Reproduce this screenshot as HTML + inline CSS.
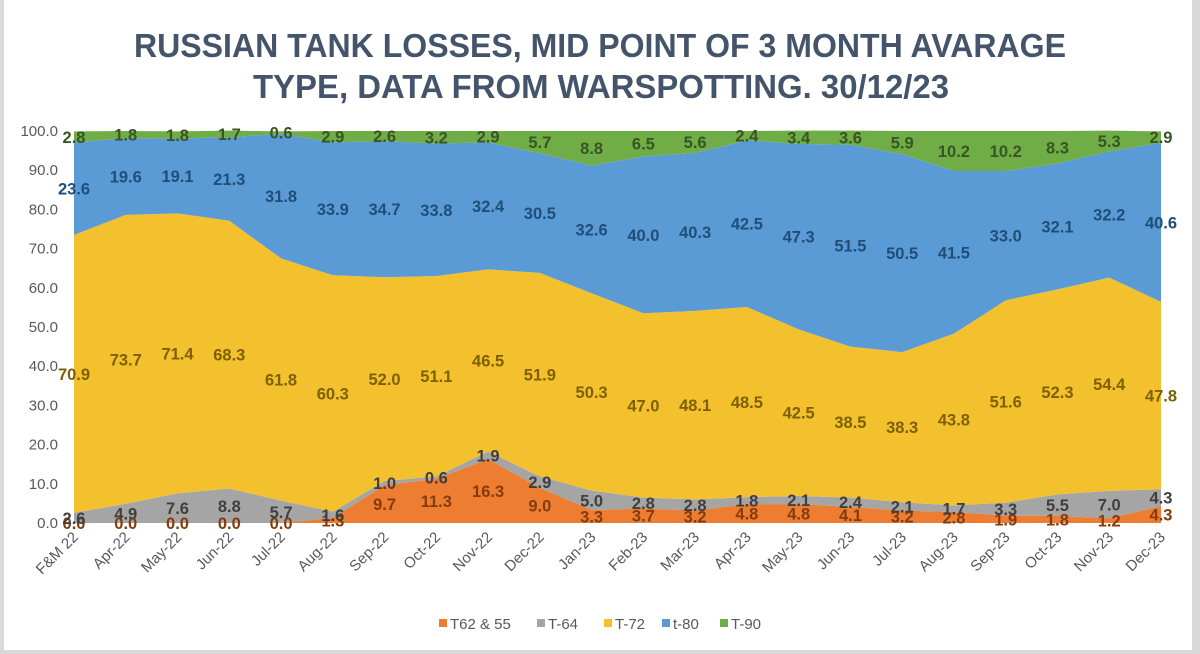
<!DOCTYPE html>
<html><head><meta charset="utf-8">
<style>
html,body{margin:0;padding:0;background:#fff;}
body{width:1200px;height:654px;overflow:hidden;position:relative;font-family:"Liberation Sans",sans-serif;}
svg{position:absolute;left:0;top:0;}
</style></head>
<body>
<svg id="chart" width="1200" height="654">
  <rect x="0" y="0" width="1200" height="654" fill="#ffffff"/>
  <rect x="0" y="0" width="4" height="654" fill="#d9d9d9"/>
  <rect x="1192" y="0" width="8" height="654" fill="#d9d9d9"/>
  <rect x="0" y="650" width="1200" height="4" fill="#d9d9d9"/>
  <text x="600" y="57" text-anchor="middle" font-size="33" font-weight="bold" fill="#44546a" textLength="932" lengthAdjust="spacingAndGlyphs">RUSSIAN TANK LOSSES, MID POINT OF 3 MONTH AVARAGE</text>
  <text x="601" y="98" text-anchor="middle" font-size="33" font-weight="bold" fill="#44546a" textLength="696" lengthAdjust="spacingAndGlyphs">TYPE, DATA FROM WARSPOTTING. 30/12/23</text>
  <g id="areas"></g>
  <g id="yaxis"></g>
  <g id="xaxis"></g>
  <g id="labels"></g>
  <g id="legend"></g>
</svg>
<script>
const categories=["F&M 22","Apr-22","May-22","Jun-22","Jul-22","Aug-22","Sep-22","Oct-22","Nov-22","Dec-22","Jan-23","Feb-23","Mar-23","Apr-23","May-23","Jun-23","Jul-23","Aug-23","Sep-23","Oct-23","Nov-23","Dec-23"];
const t62=[0,0,0,0,0,1.3,9.7,11.3,16.3,9.0,3.3,3.7,3.2,4.8,4.8,4.1,3.2,2.8,1.9,1.8,1.2,4.3];
const t64=[2.6,4.9,7.6,8.8,5.7,1.6,1.0,0.6,1.9,2.9,5.0,2.8,2.8,1.8,2.1,2.4,2.1,1.7,3.3,5.5,7.0,4.3];
const t72=[70.9,73.7,71.4,68.3,61.8,60.3,52.0,51.1,46.5,51.9,50.3,47.0,48.1,48.5,42.5,38.5,38.3,43.8,51.6,52.3,54.4,47.8];
const t80=[23.6,19.6,19.1,21.3,31.8,33.9,34.7,33.8,32.4,30.5,32.6,40.0,40.3,42.5,47.3,51.5,50.5,41.5,33.0,32.1,32.2,40.6];
const t90=[2.8,1.8,1.8,1.7,0.6,2.9,2.6,3.2,2.9,5.7,8.8,6.5,5.6,2.4,3.4,3.6,5.9,10.2,10.2,8.3,5.3,2.9];
const yTicks=[0,10,20,30,40,50,60,70,80,90,100];
const seriesNames=["T62 & 55","T-64","T-72","t-80","T-90"];

const NS="http://www.w3.org/2000/svg";
const X0=74,X1=1161,Y0=523,Y100=131;
const xs=i=>X0+(X1-X0)*i/(categories.length-1);
const ys=v=>Y0-(Y0-Y100)*v/100;
function mk(tag,attrs,parent,text){const e=document.createElementNS(NS,tag);for(const k in attrs)e.setAttribute(k,attrs[k]);if(text!==undefined)e.textContent=text;parent.appendChild(e);return e;}

const series=[t62,t64,t72,t80,t90];
const fills=["#ed7d31","#a5a5a5","#f4c12e","#5b9bd5","#70ad47"];
const labelCols=["#843c0c","#3f3f3f","#7f6000","#1f4e79","#375623"];
const keys=["t62","t64","t72","t80","t90"];
const areas=document.getElementById('areas');
const labels=document.getElementById('labels');
let base=categories.map(()=>0);
series.forEach((s,k)=>{
  const top=base.map((b,i)=>b+s[i]);
  let d="M"+categories.map((c,i)=>xs(i)+","+ys(top[i])).join(" L");
  for(let i=categories.length-1;i>=0;i--) d+=" L"+xs(i)+","+ys(base[i]);
  d+=" Z";
  const p=mk('path',{d:d,fill:fills[k]},areas);
  
  
  s.forEach((v,i)=>{
    const t=mk('text',{x:xs(i),y:ys(base[i]+v/2)+6,'text-anchor':'middle','font-size':16.5,'font-weight':'bold',fill:labelCols[k]},labels,v.toFixed(1));
    
    
  });
  base=top;
});

const ya=document.getElementById('yaxis');
yTicks.forEach(v=>{
  const t=mk('text',{x:58,y:ys(v)+5,'text-anchor':'end','font-size':15,fill:'#595959'},ya,v.toFixed(1));
  
  
});
const xa=document.getElementById('xaxis');
categories.forEach((c,i)=>{
  const x=xs(i)+5,y=538;
  const t=mk('text',{x:x,y:y,'text-anchor':'end','font-size':15,fill:'#595959',transform:'rotate(-45 '+x+' '+y+')'},xa,c);
  
  
});
const lg=document.getElementById('legend');
const lx=[439,537,604,662,720];
seriesNames.forEach((n,k)=>{
  const g=mk('g',{},lg);
  
  
  mk('rect',{x:lx[k],y:619,width:8,height:8,fill:fills[k]},g);
  mk('text',{x:lx[k]+11,y:629,'font-size':15,fill:'#595959'},g,n);
});
</script>
</body></html>
